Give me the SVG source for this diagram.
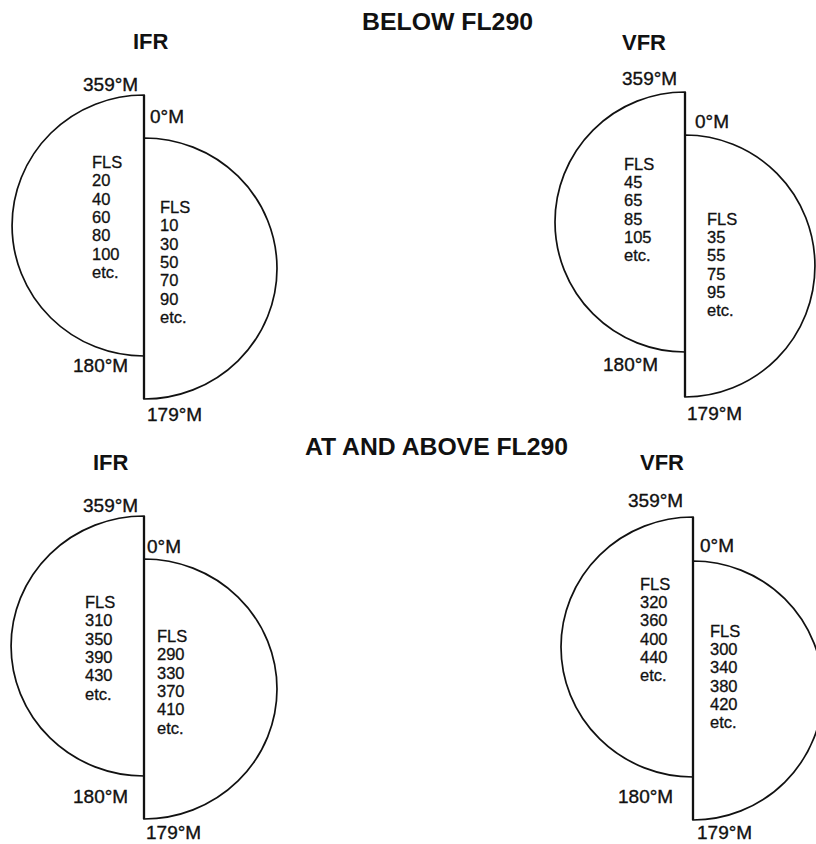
<svg xmlns="http://www.w3.org/2000/svg" width="816" height="844" viewBox="0 0 816 844">
<style>
.bg{fill:#ffffff}
.half{fill:#ffffff;stroke:#111;stroke-width:1.7;stroke-linejoin:miter}
.div{stroke:#111;stroke-width:2.3}
.h{font-family:"Liberation Sans",Arial,sans-serif;font-weight:bold;font-size:24px;fill:#111}
.t{font-family:"Liberation Sans",Arial,sans-serif;font-weight:bold;font-size:22px;fill:#111}
.lb{font-family:"Liberation Sans",Arial,sans-serif;font-size:19px;fill:#111;stroke:#111;stroke-width:0.35}
.fl{font-family:"Liberation Sans",Arial,sans-serif;font-size:16.5px;fill:#111;stroke:#111;stroke-width:0.3}
</style>
<rect class="bg" x="0" y="0" width="816" height="844"/>

<g id="headings">
<text class="h" x="362" y="30" textLength="171" lengthAdjust="spacingAndGlyphs">BELOW FL290</text>
<text class="h" x="305" y="455" textLength="263" lengthAdjust="spacingAndGlyphs">AT AND ABOVE FL290</text>
</g>

<g id="ifr-below">
<path class="half" d="M144,95 A132,130.5 0 0 0 144,356 Z"/>
<path class="half" d="M144,138 A133,130.5 0 0 1 144,399 Z"/>
<line class="div" x1="144" y1="95" x2="144" y2="399"/>
<text class="t" x="133" y="49">IFR</text>
<text class="lb" x="83" y="91">359°M</text>
<text class="lb" x="150" y="123">0°M</text>
<text class="lb" x="73" y="372">180°M</text>
<text class="lb" x="147" y="421">179°M</text>
<text class="fl" x="92" y="168"><tspan x="92">FLS</tspan><tspan x="92" dy="18.3">20</tspan><tspan x="92" dy="18.3">40</tspan><tspan x="92" dy="18.3">60</tspan><tspan x="92" dy="18.3">80</tspan><tspan x="92" dy="18.3">100</tspan><tspan x="92" dy="18.3">etc.</tspan></text>
<text class="fl" x="160" y="213"><tspan x="160">FLS</tspan><tspan x="160" dy="18.3">10</tspan><tspan x="160" dy="18.3">30</tspan><tspan x="160" dy="18.3">50</tspan><tspan x="160" dy="18.3">70</tspan><tspan x="160" dy="18.3">90</tspan><tspan x="160" dy="18.3">etc.</tspan></text>
</g>

<g id="vfr-below">
<path class="half" d="M685,92 A130,130 0 0 0 685,352 Z"/>
<path class="half" d="M685,135 A130,131 0 0 1 685,397 Z"/>
<line class="div" x1="685" y1="92" x2="685" y2="397"/>
<text class="t" x="622" y="50">VFR</text>
<text class="lb" x="622" y="85">359°M</text>
<text class="lb" x="695" y="128">0°M</text>
<text class="lb" x="603" y="371">180°M</text>
<text class="lb" x="687" y="420">179°M</text>
<text class="fl" x="624" y="170"><tspan x="624">FLS</tspan><tspan x="624" dy="18.2">45</tspan><tspan x="624" dy="18.2">65</tspan><tspan x="624" dy="18.2">85</tspan><tspan x="624" dy="18.2">105</tspan><tspan x="624" dy="18.2">etc.</tspan></text>
<text class="fl" x="707" y="225"><tspan x="707">FLS</tspan><tspan x="707" dy="18.2">35</tspan><tspan x="707" dy="18.2">55</tspan><tspan x="707" dy="18.2">75</tspan><tspan x="707" dy="18.2">95</tspan><tspan x="707" dy="18.2">etc.</tspan></text>
</g>

<g id="ifr-above">
<path class="half" d="M144,516 A133,130 0 0 0 144,776 Z"/>
<path class="half" d="M144,559 A133,130 0 0 1 144,819 Z"/>
<line class="div" x1="144" y1="516" x2="144" y2="819"/>
<text class="t" x="93" y="470">IFR</text>
<text class="lb" x="83" y="512">359°M</text>
<text class="lb" x="147" y="553">0°M</text>
<text class="lb" x="73" y="803">180°M</text>
<text class="lb" x="146" y="839">179°M</text>
<text class="fl" x="85" y="608"><tspan x="85">FLS</tspan><tspan x="85" dy="18.3">310</tspan><tspan x="85" dy="18.3">350</tspan><tspan x="85" dy="18.3">390</tspan><tspan x="85" dy="18.3">430</tspan><tspan x="85" dy="18.3">etc.</tspan></text>
<text class="fl" x="157" y="642"><tspan x="157">FLS</tspan><tspan x="157" dy="18.3">290</tspan><tspan x="157" dy="18.3">330</tspan><tspan x="157" dy="18.3">370</tspan><tspan x="157" dy="18.3">410</tspan><tspan x="157" dy="18.3">etc.</tspan></text>
</g>

<g id="vfr-above">
<path class="half" d="M693,517 A132,130 0 0 0 693,777 Z"/>
<path class="half" d="M693,561 A130,129.5 0 0 1 693,820 Z"/>
<line class="div" x1="693" y1="517" x2="693" y2="820"/>
<text class="t" x="640" y="470">VFR</text>
<text class="lb" x="628" y="507">359°M</text>
<text class="lb" x="700" y="552">0°M</text>
<text class="lb" x="618" y="803">180°M</text>
<text class="lb" x="697" y="839">179°M</text>
<text class="fl" x="640" y="590"><tspan x="640">FLS</tspan><tspan x="640" dy="18.2">320</tspan><tspan x="640" dy="18.2">360</tspan><tspan x="640" dy="18.2">400</tspan><tspan x="640" dy="18.2">440</tspan><tspan x="640" dy="18.2">etc.</tspan></text>
<text class="fl" x="710" y="637"><tspan x="710">FLS</tspan><tspan x="710" dy="18.2">300</tspan><tspan x="710" dy="18.2">340</tspan><tspan x="710" dy="18.2">380</tspan><tspan x="710" dy="18.2">420</tspan><tspan x="710" dy="18.2">etc.</tspan></text>
</g>
</svg>
